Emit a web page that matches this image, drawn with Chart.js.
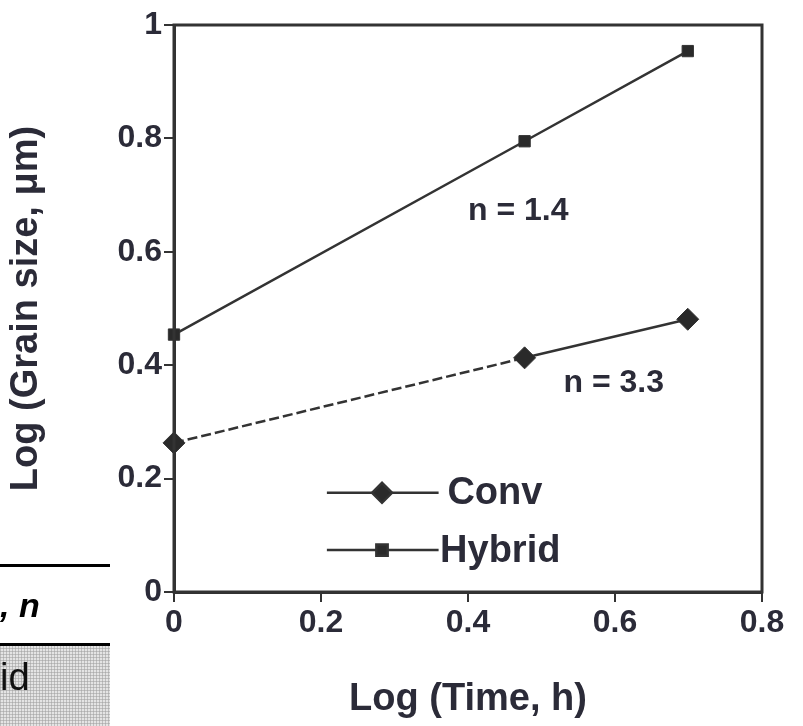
<!DOCTYPE html>
<html>
<head>
<meta charset="utf-8">
<script src="https://cdn.jsdelivr.net/npm/chart.js@4"></script>
<style>
  html, body { margin: 0; padding: 0; background: #fff; }
  #wrap { position: relative; width: 803px; height: 726px; overflow: hidden; }
  #c { position: absolute; left: 0; top: 0; }
  /* piece of a table that sits under the figure */
  #tbl { position: absolute; left: 0; top: 564px; width: 110px; height: 162px; font-family: "Liberation Sans", Arial, sans-serif; }
  #tbl .hd { border-top: 3px solid #000; border-bottom: 3px solid #000; height: 82px; box-sizing: border-box; font-weight: bold; font-style: italic; font-size: 34px; line-height: 76px; color: #000; }
  #tbl .row { height: 80px; font-size: 38px; line-height: 62px; color: #111;
    background-color: #e4e4e4;
    background-image: linear-gradient(90deg, rgba(160,160,160,.55) 1px, transparent 1px),
                      linear-gradient(0deg, rgba(160,160,160,.55) 1px, transparent 1px);
    background-size: 3px 3px; }
</style>
</head>
<body>
<div id="wrap">
  <canvas id="c" width="803" height="726"></canvas>
  <div id="tbl"><div class="hd">, n</div><div class="row">id</div></div>
</div>
<script>
// данные
const logTime = [0, 0.477, 0.699];
const convSize = [0.263, 0.413, 0.481];
const hybridSize = [0.454, 0.795, 0.954];
const xTicks = [0, 0.2, 0.4, 0.6, 0.8];
const yTicks = [0, 0.2, 0.4, 0.6, 0.8, 1];
const seriesNames = ['Conv', 'Hybrid'];
const slopeLabels = ['n = 3.3', 'n = 1.4'];

const ink = '#2b2b38';
const lineCol = '#333';
const fontFam = '"Liberation Sans", Arial, sans-serif';

// рамка, подписи n и легенда внутри графика
const extras = {
  id: 'extras',
  afterDraw(chart) {
    const { ctx, chartArea: a, scales: { x, y } } = chart;
    ctx.save();
    ctx.strokeStyle = lineCol;
    ctx.lineWidth = 3;
    ctx.strokeRect(a.left, a.top, a.right - a.left, a.bottom - a.top);

    ctx.fillStyle = ink;
    ctx.font = 'bold 32px ' + fontFam;
    ctx.textBaseline = 'middle';
    ctx.textAlign = 'left';
    ctx.fillText(slopeLabels[1], x.getPixelForValue(0.40), y.getPixelForValue(0.671));
    ctx.fillText(slopeLabels[0], x.getPixelForValue(0.53), y.getPixelForValue(0.369));

    // легенда
    const rows = [
      { name: seriesNames[0], yv: 0.175, style: 'rectRot', r: 10, tx: 0.372 },
      { name: seriesNames[1], yv: 0.074, style: 'rect', r: 8, tx: 0.362 }
    ];
    rows.forEach(row => {
      const py = y.getPixelForValue(row.yv);
      const x0 = x.getPixelForValue(0.208), x1 = x.getPixelForValue(0.36);
      ctx.strokeStyle = lineCol;
      ctx.lineWidth = 2.5;
      ctx.beginPath(); ctx.moveTo(x0, py); ctx.lineTo(x1, py); ctx.stroke();
      ctx.fillStyle = '#2a2a2a';
      Chart.helpers.drawPoint(ctx, { pointStyle: row.style, radius: row.r, borderWidth: 1 }, x.getPixelForValue(0.283), py);
      ctx.fillStyle = ink;
      ctx.font = 'bold 38px ' + fontFam;
      ctx.fillText(row.name, x.getPixelForValue(row.tx), py + 1);
    });
    ctx.restore();
  }
};

const axisGrid = { drawOnChartArea: false, drawTicks: true, tickLength: 10, color: lineCol, lineWidth: 2 };
const axisBorder = { display: true, color: lineCol, width: 3 };
const tickFont = { family: fontFam, size: 32, weight: 'bold' };
const titleFont = { family: fontFam, size: 38, weight: 'bold' };

new Chart(document.getElementById('c'), {
  type: 'line',
  data: {
    datasets: [
      {
        label: seriesNames[0],
        data: logTime.map((t, i) => ({ x: t, y: convSize[i] })),
        borderColor: lineCol, backgroundColor: '#2a2a2a', borderWidth: 2.5,
        pointStyle: 'rectRot', pointRadius: 11, pointBorderWidth: 1,
        segment: { borderDash: c => c.p0DataIndex === 0 ? [10, 4] : undefined }
      },
      {
        label: seriesNames[1],
        data: logTime.map((t, i) => ({ x: t, y: hybridSize[i] })),
        borderColor: lineCol, backgroundColor: '#2a2a2a', borderWidth: 2.5,
        pointStyle: 'rect', pointRadius: 8, pointBorderWidth: 1
      }
    ]
  },
  options: {
    responsive: false,
    animation: false,
    clip: false,
    layout: { padding: { top: 25, right: 41, left: 0, bottom: 0 } },
    plugins: { legend: { display: false }, tooltip: { enabled: false } },
    scales: {
      x: {
        type: 'linear', min: xTicks[0], max: xTicks[xTicks.length - 1],
        afterBuildTicks: s => { s.ticks = xTicks.map(v => ({ value: v })); },
        afterFit: s => { s.height = 134; },
        grid: axisGrid, border: axisBorder,
        ticks: { color: ink, font: tickFont, padding: 2, maxRotation: 0 },
        title: { display: true, text: 'Log (Time, h)', color: ink, font: titleFont, padding: { top: 8 } }
      },
      y: {
        type: 'linear', min: yTicks[0], max: yTicks[yTicks.length - 1],
        afterBuildTicks: s => { s.ticks = yTicks.map(v => ({ value: v })); },
        afterFit: s => { s.width = 174; },
        grid: axisGrid, border: axisBorder,
        ticks: { color: ink, font: tickFont, padding: 2, callback: v => String(v) },
        title: { display: true, text: 'Log (Grain size, μm)', color: ink, font: titleFont, padding: { bottom: 4 } }
      }
    }
  },
  plugins: [extras]
});
</script>
</body>
</html>
